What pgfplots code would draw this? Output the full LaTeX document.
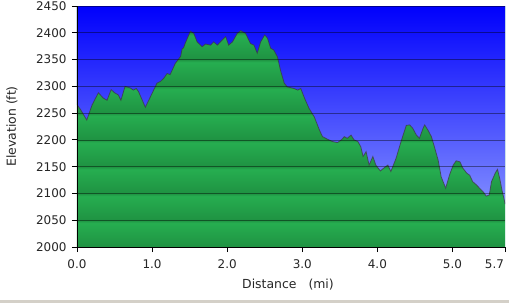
\documentclass[border=0pt]{standalone}
\usepackage{pgfplots}
\pgfplotsset{compat=1.18}
\usepackage{pgfplotstable}
\usepackage{fontspec}
\setmainfont{DejaVu Sans}

\definecolor{gdark}{RGB}{31,146,66}
\definecolor{glight}{RGB}{38,174,80}
\definecolor{skytop}{RGB}{0,0,252}
\definecolor{skybot}{RGB}{128,140,255}
\definecolor{strip}{RGB}{212,208,200}
\definecolor{edge}{RGB}{60,60,60}
\definecolor{rimline}{RGB}{170,220,235}

\pgfdeclareverticalshading{greenbands}{100bp}{%
color(0bp)=(gdark);
color(25bp)=(gdark); color(30bp)=(glight);
color(30.556bp)=(gdark); color(35.556bp)=(glight);
color(36.111bp)=(gdark); color(41.111bp)=(glight);
color(41.667bp)=(gdark); color(46.667bp)=(glight);
color(47.222bp)=(gdark); color(52.222bp)=(glight);
color(52.778bp)=(gdark); color(57.778bp)=(glight);
color(58.333bp)=(gdark); color(63.333bp)=(glight);
color(63.889bp)=(gdark); color(68.889bp)=(glight);
color(69.444bp)=(gdark); color(74.444bp)=(glight);
color(75bp)=(gdark); color(100bp)=(gdark)}

\pgfplotstableread{
x y
0.00 2266
0.05 2256
0.13 2237
0.20 2265
0.285 2288
0.35 2278
0.40 2274
0.455 2294
0.50 2288
0.55 2284
0.585 2274
0.64 2300
0.71 2297
0.75 2293
0.79 2296
0.82 2290
0.91 2261
0.976 2280
1.065 2306
1.11 2309
1.155 2315
1.20 2324
1.24 2322
1.31 2343
1.38 2356
1.40 2370
1.42 2372
1.44 2380
1.51 2403
1.555 2399
1.60 2383
1.667 2374
1.71 2379
1.78 2377
1.82 2383
1.87 2377
1.93 2386
1.98 2393
2.02 2377
2.07 2383
2.135 2399
2.18 2404
2.245 2399
2.31 2380
2.357 2377
2.40 2362
2.446 2383
2.50 2396
2.536 2390
2.58 2371
2.62 2368
2.67 2355
2.71 2330
2.76 2306
2.80 2299
2.89 2296
2.94 2293
2.98 2296
3.03 2278
3.09 2259
3.16 2243
3.23 2218
3.27 2206
3.34 2201
3.40 2197
3.47 2195
3.52 2200
3.56 2206
3.60 2203
3.65 2209
3.69 2200
3.74 2197
3.78 2187
3.81 2169
3.85 2178
3.89 2153
3.94 2169
3.98 2153
4.04 2142
4.10 2149
4.14 2153
4.18 2141
4.25 2166
4.32 2199
4.385 2227
4.43 2228
4.47 2222
4.52 2209
4.56 2203
4.61 2222
4.63 2228
4.675 2218
4.72 2206
4.76 2187
4.81 2162
4.85 2131
4.91 2110
4.96 2134
5.01 2153
5.05 2161
5.10 2159
5.14 2147
5.19 2138
5.23 2134
5.27 2122
5.32 2116
5.36 2110
5.41 2103
5.45 2095
5.49 2097
5.52 2122
5.57 2138
5.60 2145
5.63 2128
5.66 2106
5.69 2088
5.70 2080
}\profile

\begin{document}
\begin{tikzpicture}
\fill[white] (-77bp,-56bp) rectangle (432bp,247bp);
\path[use as bounding box] (-77bp,-56bp) rectangle (432bp,247bp);
\fill[strip] (-77bp,-56bp) rectangle (432bp,-53bp);
\begin{axis}[
  at={(0,0)}, anchor=south west,
  scale only axis, width=428bp, height=241bp,
  xmin=0, xmax=5.7, ymin=2000, ymax=2450,
  axis background/.style={shading=greenbands},
  axis on top,
  axis x line*=bottom, axis y line*=left,
  axis line style={black, line width=0.8bp, -},
  xtick={0,1,2,3,4,5,5.7},
  xticklabels={0.0,1.0,2.0,3.0,4.0,5.0,\makebox[0pt][r]{5.7\kern1bp}},
  ytick={2000,2050,...,2450},
  /pgf/number format/1000 sep={},
  /pgf/number format/assume math mode=true,
  tick align=outside, major tick length=5bp,
  tick style={black, line width=0.8bp},
  ymajorgrids,
  grid style={black, opacity=0.42, line width=0.6bp},
  ticklabel style={font=\fontsize{12}{14}\selectfont, text=black!85},
  xticklabel style={yshift=-4bp},
  yticklabel style={xshift=-2bp},
  xlabel={Distance\ \ \ (mi)},
  ylabel={Elevation (ft)},
  every axis x label/.style={at={(axis description cs:0.5,0)}, anchor=center, yshift=-38bp, xshift=-3bp, font=\fontsize{12.5}{14}\selectfont, text=black!85},
  every axis y label/.style={at={(axis description cs:0,0.5)}, anchor=center, xshift=-65bp, rotate=90, font=\fontsize{12.5}{14}\selectfont, text=black!85},
]
\addplot[draw=none, top color=skytop, bottom color=skybot] table {\profile}
  -- (rel axis cs:1,1) -- (rel axis cs:0,1) -- cycle;
\addplot[edge, opacity=0.75, line width=0.8bp] table {\profile};
\draw[rimline, line width=0.8bp] (rel axis cs:1,0) -- (rel axis cs:1,1);
\end{axis}
\end{tikzpicture}
\end{document}
